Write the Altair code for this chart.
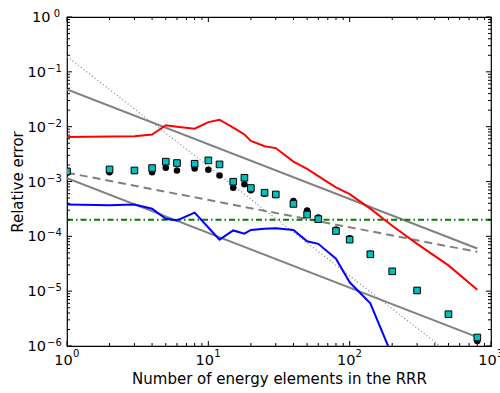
import altair as alt
import pandas as pd

# Number of energy elements kept in the RRR
n_elems = [1, 2, 3, 4, 5, 6, 8, 10, 12, 15, 18, 20, 25, 30, 40, 50, 60, 80,
           100, 140, 200, 300, 500, 800]

# Relative error of the two point series
err_squares = [1.53e-3, 1.66e-3, 1.59e-3, 1.76e-3, 2.30e-3, 2.17e-3, 2.11e-3,
               2.43e-3, 2.05e-3, 9.9e-4, 1.17e-3, 7.6e-4, 6.25e-4, 5.8e-4,
               3.9e-4, 2.5e-4, 2.06e-4, 1.25e-4, 8.7e-5, 4.7e-5, 2.3e-5,
               1.03e-5, 3.8e-6, 1.43e-6]
err_circles = [1.45e-3, 1.48e-3, 1.55e-3, 1.48e-3, 1.79e-3, 1.59e-3, 1.73e-3,
               1.64e-3, 1.29e-3, 7.7e-4, 8.9e-4, 6.9e-4, 6.0e-4, 5.7e-4,
               4.4e-4, 2.96e-4, 2.2e-4, 1.33e-4, 9.2e-5, 4.8e-5, 2.3e-5,
               1.03e-5, 3.8e-6, 1.23e-6]

# Red curve
red_err = [6.5e-3, 6.6e-3, 6.7e-3, 7.2e-3, 1.06e-2, 1.0e-2, 9.2e-3, 1.21e-2,
           1.34e-2, 9.6e-3, 7.2e-3, 5.5e-3, 4.4e-3, 4.07e-3, 2.3e-3, 1.7e-3,
           1.25e-3, 7.8e-4, 5.9e-4, 3.2e-4, 1.56e-4, 7.3e-5, 2.95e-5, 1.06e-5]

# Blue curve
blue_n = [1, 2, 3, 4, 5, 6, 8, 10, 12, 15, 18, 20, 25, 30, 40, 50, 60, 80,
          100, 140, 200]
blue_err = [3.82e-4, 3.7e-4, 3.82e-4, 3.19e-4, 2.09e-4, 1.95e-4, 2.7e-4,
            1.45e-4, 8.7e-5, 1.28e-4, 1.12e-4, 1.31e-4, 1.38e-4, 1.41e-4,
            1.31e-4, 8.1e-5, 7.3e-5, 3.9e-5, 1.45e-5, 6.0e-6, 6.6e-7]

# Straight reference slopes (end points)
ref_n = [1, 800]
ref_hi = [0.048, 6.0e-5]      # ~ 1/N
ref_lo = [1.15e-3, 1.45e-6]   # ~ 1/N
ref_half = [1.45e-3, 5.2e-5]  # ~ 1/sqrt(N)
ref_sq = [0.19, 2.97e-7]      # ~ 1/N^2

# Horizontal threshold
thr_n = [1, 1000]
thr_err = [2e-4, 2e-4]

# Axis ticks and their labels (10 raised to the exponent)
x_major = [1, 10, 100, 1000]
x_exps = ["0", "1", "2", "3"]
y_major = [1e-6, 1e-5, 1e-4, 1e-3, 1e-2, 1e-1]
y_exps = ["−6", "−5", "−4", "−3", "−2", "−1"]
y_top = [1]
y_top_exps = ["0"]
x_minor = [m * 10 ** k for k in range(0, 3) for m in range(2, 10)]
y_minor = [m * 10.0 ** k for k in range(-6, 0) for m in range(2, 10)]

W, H = 424, 329
FONT = "DejaVu Sans"
BASE_FS, EXP_FS = 14.5, 10

xs = alt.Scale(type="log", domain=[1, 1000], nice=False)
ys = alt.Scale(type="log", domain=[1e-6, 1], nice=False)

x_axis = alt.Axis(values=x_major, labels=False, grid=False, domain=False,
                  ticks=False, title="Number of energy elements in the RRR",
                  titleFont=FONT, titleFontSize=15, titleFontWeight="normal",
                  titleColor="black", titleX=W / 2, titleY=37,
                  titleBaseline="alphabetic", titleAlign="center")
y_axis = alt.Axis(values=y_major, labels=False, grid=False, domain=False,
                  ticks=False, title="Relative error", titleFont=FONT,
                  titleFontSize=15, titleFontWeight="normal",
                  titleColor="black", titleX=-50, titleY=H / 2,
                  titleAngle=-90, titleBaseline="middle", titleAlign="center")


def X(field):
    return alt.X(f"{field}:Q", scale=xs, axis=x_axis)


def Y(field):
    return alt.Y(f"{field}:Q", scale=ys, axis=y_axis)


def line(xv, yv, color, width=2.0, dash=None):
    df = pd.DataFrame({"n": xv, "err": yv})
    kw = dict(color=color, strokeWidth=width, clip=True)
    if dash:
        kw["strokeDash"] = dash
    return alt.Chart(df).mark_line(**kw).encode(x=X("n"), y=Y("err"))


gray = "#808080"
layers = [
    line(ref_n, ref_sq, gray, 1.2, [1, 2.5]),
    line(ref_n, ref_hi, gray, 2),
    line(ref_n, ref_lo, gray, 2),
    line(ref_n, ref_half, gray, 2, [8, 5]),
    line(thr_n, thr_err, "#008000", 2, [6, 3, 1.5, 3]),
    line(n_elems, red_err, "#ff0000", 2),
    line(blue_n, blue_err, "#0000ff", 2),
]

pts = pd.DataFrame({"n": n_elems, "sq": err_squares, "ci": err_circles})
circles = alt.Chart(pts).mark_point(
    shape="circle", filled=True, color="black", size=42, opacity=1, clip=True
).encode(x=X("n"), y=Y("ci"))
squares = alt.Chart(pts).mark_point(
    shape="square", filled=True, fill="#00bfbf", stroke="black", strokeWidth=1,
    size=44, opacity=1, clip=True
).encode(x=X("n"), y=Y("sq"))
layers += [circles, squares]


# Inward-pointing ticks on all four sides of the frame
def xticks(vals, length):
    df = pd.DataFrame({"n": vals})
    bottom = alt.Chart(df).mark_rule(color="black", strokeWidth=1).encode(
        x=X("n"), y=alt.value(H), y2=alt.value(H - length))
    top = alt.Chart(df).mark_rule(color="black", strokeWidth=1).encode(
        x=X("n"), y=alt.value(0), y2=alt.value(length))
    return [bottom, top]


def yticks(vals, length):
    df = pd.DataFrame({"err": vals})
    left = alt.Chart(df).mark_rule(color="black", strokeWidth=1).encode(
        y=Y("err"), x=alt.value(0), x2=alt.value(length))
    right = alt.Chart(df).mark_rule(color="black", strokeWidth=1).encode(
        y=Y("err"), x=alt.value(W), x2=alt.value(W - length))
    return [left, right]


layers += xticks(x_major, 5) + xticks(x_minor, 3)
layers += yticks(y_major + y_top, 5) + yticks(y_minor, 3)


# Power-of-ten tick labels: base "10" plus a raised, smaller exponent
def x_labels():
    df = pd.DataFrame({"n": x_major, "exp": x_exps})
    base = alt.Chart(df).mark_text(
        text="10", align="right", baseline="alphabetic", dx=5.7,
        font=FONT, fontSize=BASE_FS, color="black"
    ).encode(x=X("n"), y=alt.value(H + 19))
    exp = alt.Chart(df).mark_text(
        align="left", baseline="alphabetic", dx=5.9,
        font=FONT, fontSize=EXP_FS, color="black"
    ).encode(x=X("n"), y=alt.value(H + 10.5), text="exp:N")
    return [base, exp]


def y_labels(vals, exps, base_dx, exp_dx):
    df = pd.DataFrame({"err": vals, "exp": exps})
    base = alt.Chart(df).mark_text(
        text="10", align="right", baseline="alphabetic", dx=base_dx, dy=5,
        font=FONT, fontSize=BASE_FS, color="black"
    ).encode(y=Y("err"), x=alt.value(0))
    exp = alt.Chart(df).mark_text(
        align="right", baseline="alphabetic", dx=exp_dx, dy=0,
        font=FONT, fontSize=EXP_FS, color="black"
    ).encode(y=Y("err"), x=alt.value(0), text="exp:N")
    return [base, exp]


layers += x_labels()
layers += y_labels(y_major, y_exps, -21, -5.2)
layers += y_labels(y_top, y_top_exps, -16.5, -7)

chart = alt.layer(*layers).properties(
    width=W, height=H,
    autosize=alt.AutoSizeParams(type="none"),
    padding={"left": 67, "top": 17, "right": 9, "bottom": 47},
    background="white",
).configure_view(stroke="black", strokeWidth=1.2)

chart.save("out.html", embed_options={"renderer": "svg", "actions": False})
